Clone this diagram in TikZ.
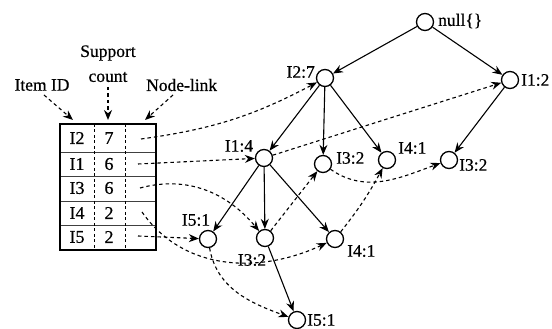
\documentclass[tikz,border=0pt]{standalone}
\usepackage{fontspec}
\setmainfont{Liberation Serif}
\newfontfamily\labfont[FakeBold=0.6]{Liberation Serif}
\usetikzlibrary{arrows.meta}
\begin{document}
\begin{tikzpicture}[x=1pt,y=1pt,
  tnode/.style={circle,draw,line width=1.3pt,minimum size=17pt,inner sep=0pt},
  lab/.style={inner sep=0pt,font=\labfont\fontsize{17.5}{19}\selectfont},
  edge/.style={line width=1.1pt,-{Stealth[length=10pt,width=8pt]}},
  link/.style={line width=1.1pt,dash pattern=on 3.5pt off 3pt,-{Stealth[length=10pt,width=8pt]}},
  tabtxt/.style={inner sep=0pt,font=\labfont\fontsize{18}{20}\selectfont}]
\useasboundingbox (0,0) rectangle (552,329);
% tree nodes
\node[tnode] (null) at (425,307) {};
\node[tnode] (i27) at (325,251) {};
\node[tnode] (i12) at (510,249) {};
\node[tnode] (i14) at (264,171) {};
\node[tnode] (i32m) at (323,165) {};
\node[tnode] (i41u) at (387,169) {};
\node[tnode] (i32r) at (449,169) {};
\node[tnode] (i51l) at (208,90) {};
\node[tnode] (i32l) at (265,91) {};
\node[tnode] (i41l) at (335,90) {};
\node[tnode] (i51b) at (297,9) {};
% labels
\node[lab,anchor=west] (lnull) at (438,308) {null\{\}};
\node[lab,anchor=east] (l27) at (315,257) {I2:7};
\node[lab,anchor=west] (l12) at (521,249) {I1:2};
\node[lab] (l14) at (239,183) {I1:4};
\node[lab,anchor=west] (l32m) at (336,171) {I3:2};
\node[lab,anchor=west] (l41u) at (398,181) {I4:1};
\node[lab,anchor=west] (l32r) at (459,164) {I3:2};
\node[lab] (l51l) at (196,109) {I5:1};
\node[lab] (l32l) at (252,69) {I3:2};
\node[lab,anchor=west] (l41l) at (347,78) {I4:1};
\node[lab,anchor=west] (l51b) at (307,9) {I5:1};
% tree edges
\draw[edge] (null) -- (i27);
\draw[edge] (null) -- (i12);
\draw[edge] (i27) -- (i14);
\draw[edge] (i27) -- (i32m);
\draw[edge] (i27) -- (i41u);
\draw[edge] (i12) -- (i32r);
\draw[edge] (i14) -- (i51l);
\draw[edge] (i14) -- (i32l);
\draw[edge] (i14) -- (i41l);
\draw[edge] (i32l) -- (i51b);
% header table
\node[lab] (hid) at (42,244) {Item ID};
\node[lab] (hsup) at (108,276) {Support};
\node[lab] (hcnt) at (108,252) {count};
\node[lab,anchor=west] (hnl) at (146,244) {Node-link};
\coordinate (aid) at (73,209);
\coordinate (acnt) at (108,209);
\coordinate (anl) at (145,209);
\coordinate (sid) at (44,234);
\coordinate (scnt) at (108,242);
\coordinate (snl) at (173,234);
\draw[link] (sid) -- (aid);
\draw[link] (scnt) -- (acnt);
\draw[link] (snl) -- (anl);
% table
\draw[line width=0.9pt,black!75] (60,177) -- (156,177) (60,153) -- (156,153) (60,128) -- (156,128) (60,104) -- (156,104);
\draw[line width=0.8pt,dash pattern=on 3pt off 2.5pt] (94,205) -- (94,79) (125,205) -- (125,79);
\draw[line width=1.7pt] (60,79) rectangle (156,205);
\node[tabtxt] (c11) at (77,191) {I2};
\node[tabtxt] (c12) at (109,191) {7};
\node[tabtxt] (c21) at (77,165) {I1};
\node[tabtxt] (c22) at (109,165) {6};
\node[tabtxt] (c31) at (77,141) {I3};
\node[tabtxt] (c32) at (109,141) {6};
\node[tabtxt] (c41) at (77,116) {I4};
\node[tabtxt] (c42) at (109,116) {2};
\node[tabtxt] (c51) at (77,92) {I5};
\node[tabtxt] (c52) at (109,92) {2};
\coordinate (n1) at (141,190);
\coordinate (n2) at (138,165);
\coordinate (n3) at (140,141);
\coordinate (n4) at (142,117);
\coordinate (n5) at (138,93);
% node-links
\draw[link] (n1) to[bend right=10] (i27);
\draw[link] (n2) -- (i14);
\draw[link] (i14) -- (i12);
\draw[link] (n3) to[out=15,in=130] (i32l);
\draw[link] (i32l) -- (i32m);
\draw[link] (i32m) to[out=-35,in=200] (i32r);
\draw[link] (n4) to[out=-55,in=205] (i41l);
\draw[link] (i41l) to[bend right=5] (i41u);
\draw[link] (n5) -- (i51l);
\draw[link] (i51l) to[out=-80,in=160] (i51b);
\end{tikzpicture}
\end{document}
